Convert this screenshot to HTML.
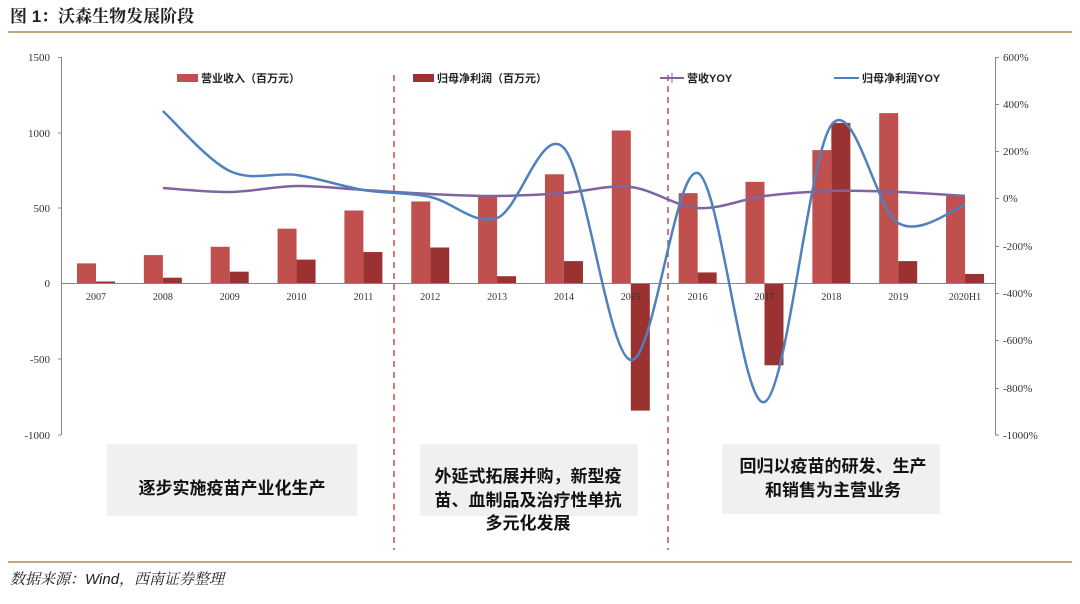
<!DOCTYPE html>
<html><head><meta charset="utf-8">
<style>
html,body{margin:0;padding:0;background:#fff;}
body{width:1080px;height:599px;overflow:hidden;font-family:"Liberation Sans","Noto Sans CJK SC",sans-serif;}
</style></head>
<body>
<svg id="s" width="1080" height="599" viewBox="0 0 1080 599" xmlns="http://www.w3.org/2000/svg">
<text x="10" y="22" font-size="17" font-weight="bold" font-family="Liberation Sans,Noto Serif CJK SC,serif" fill="#222">图 1：沃森生物发展阶段</text>
<line x1="8" y1="32" x2="1072" y2="32" stroke="#c9a77c" stroke-width="2"/>
<line x1="8" y1="562" x2="1072" y2="562" stroke="#c9a77c" stroke-width="2"/>
<text x="10" y="584" font-size="15" font-style="italic" fill="#222" font-family="Liberation Sans,Noto Serif CJK SC,serif">数据来源：Wind，西南证券整理</text>
<rect x="107" y="444" width="250" height="72" fill="#f0f0f0"/>
<rect x="420" y="444" width="218" height="72" fill="#f0f0f0"/>
<rect x="722" y="444" width="218" height="70" fill="#f0f0f0"/>
<g font-size="17" font-weight="bold" fill="#111" text-anchor="middle">
<text x="232" y="494">逐步实施疫苗产业化生产</text>
<text x="528" y="482">外延式拓展并购，新型疫</text>
<text x="528" y="506">苗、血制品及治疗性单抗</text>
<text x="528" y="529">多元化发展</text>
<text x="833" y="472">回归以疫苗的研发、生产</text>
<text x="833" y="496">和销售为主营业务</text>
</g>
<g stroke="#888" stroke-width="1" fill="none">
<line x1="61.5" y1="57" x2="61.5" y2="435"/>
<line x1="58" y1="57.5" x2="61" y2="57.5"/><line x1="58" y1="133" x2="61" y2="133"/><line x1="58" y1="208" x2="61" y2="208"/><line x1="58" y1="359" x2="61" y2="359"/><line x1="58" y1="435" x2="61" y2="435"/>
<line x1="995.5" y1="57" x2="995.5" y2="435"/>
<line x1="995" y1="57.5" x2="999" y2="57.5"/><line x1="995" y1="104.5" x2="999" y2="104.5"/><line x1="995" y1="151.5" x2="999" y2="151.5"/><line x1="995" y1="198.5" x2="999" y2="198.5"/><line x1="995" y1="246.5" x2="999" y2="246.5"/><line x1="995" y1="293.5" x2="999" y2="293.5"/><line x1="995" y1="340.5" x2="999" y2="340.5"/><line x1="995" y1="388.5" x2="999" y2="388.5"/><line x1="995" y1="435" x2="999" y2="435"/>
</g>
<g font-size="11" fill="#333" font-family="Liberation Serif,serif" text-anchor="end">
<text x="50" y="61">1500</text><text x="50" y="137">1000</text><text x="50" y="212">500</text><text x="50" y="287">0</text><text x="50" y="363">-500</text><text x="50" y="439">-1000</text>
</g>
<g font-size="11" fill="#333" font-family="Liberation Serif,serif">
<text x="1003" y="61">600%</text><text x="1003" y="108">400%</text><text x="1003" y="155">200%</text><text x="1003" y="202">0%</text><text x="1003" y="250">-200%</text><text x="1003" y="297">-400%</text><text x="1003" y="344">-600%</text><text x="1003" y="392">-800%</text><text x="1003" y="439">-1000%</text>
</g>
<g id="bars"></g>
<line x1="61" y1="283.5" x2="995" y2="283.5" stroke="#888" stroke-width="1"/>
<g id="xl" font-size="10" fill="#333" font-family="Liberation Serif,serif" text-anchor="middle"></g>
<line x1="394" y1="75" x2="394" y2="550" stroke="#c0504d" stroke-width="1.5" stroke-dasharray="6,5"/>
<line x1="668" y1="75" x2="668" y2="550" stroke="#c0504d" stroke-width="1.5" stroke-dasharray="6,5"/>
<path id="p1" fill="none" stroke="#8064a2" stroke-width="2.5"/>
<path id="p2" fill="none" stroke="#4f81bd" stroke-width="2.5"/>
<rect x="177" y="74" width="21" height="8" fill="#c0504d"/>
<text x="201" y="82" font-size="11" font-weight="bold" fill="#222">营业收入（百万元）</text>
<rect x="413" y="74" width="21" height="8" fill="#9b3232"/>
<text x="437" y="82" font-size="11" font-weight="bold" fill="#222">归母净利润（百万元）</text>
<line x1="660" y1="78" x2="684" y2="78" stroke="#8064a2" stroke-width="2"/><line x1="672" y1="73" x2="672" y2="83" stroke="#8064a2" stroke-width="1"/>
<text x="687" y="82" font-size="11" font-weight="bold" fill="#222">营收YOY</text>
<line x1="834" y1="78" x2="859" y2="78" stroke="#4f81bd" stroke-width="2"/>
<text x="862" y="82" font-size="11" font-weight="bold" fill="#222">归母净利润YOY</text>
</svg>
<script>
var N='http://www.w3.org/2000/svg';
var yrs=['2007','2008','2009','2010','2011','2012','2013','2014','2015','2016','2017','2018','2019','2020H1'];
var rev=[130,185,240,360,480,540,580,720,1010,595,670,880,1125,585];
var pro=[10,35,75,155,205,235,45,145,-845,70,-545,1060,145,60];
var b=document.getElementById('bars'),xl=document.getElementById('xl');
function Y(v){return 283-v*0.151;}
function R(x,y1,y2,c){var r=document.createElementNS(N,'rect');r.setAttribute('x',x);r.setAttribute('y',Math.min(y1,y2));r.setAttribute('width',19);r.setAttribute('height',Math.abs(y2-y1));r.setAttribute('fill',c);b.appendChild(r);}
for(var i=0;i<14;i++){var c=96+i*66.85;R(c-19,Y(rev[i]),283,'#c0504d');R(c,Y(pro[i]),283,'#9b3232');
var t=document.createElementNS(N,'text');t.setAttribute('x',c);t.setAttribute('y',300);t.textContent=yrs[i];xl.appendChild(t);}
var a=[188,192,186,190,194,196,193,187,208,196,191,192,196];
var q=[111,171,175,190,197,218,148,360,173,402,125,223,205];
function path(ys){var p=[];for(var i=0;i<ys.length;i++)p.push([96+(i+1)*66.85,ys[i]]);
var d='M'+p[0][0]+','+p[0][1];
for(var i=0;i<p.length-1;i++){var p0=p[i-1]||p[i],p1=p[i],p2=p[i+1],p3=p[i+2]||p2;
d+=' C'+(p1[0]+(p2[0]-p0[0])/6)+','+(p1[1]+(p2[1]-p0[1])/6)+' '+(p2[0]-(p3[0]-p1[0])/6)+','+(p2[1]-(p3[1]-p1[1])/6)+' '+p2[0]+','+p2[1];}
return d;}
document.getElementById('p1').setAttribute('d',path(a));
document.getElementById('p2').setAttribute('d',path(q));
</script>
</body></html>
